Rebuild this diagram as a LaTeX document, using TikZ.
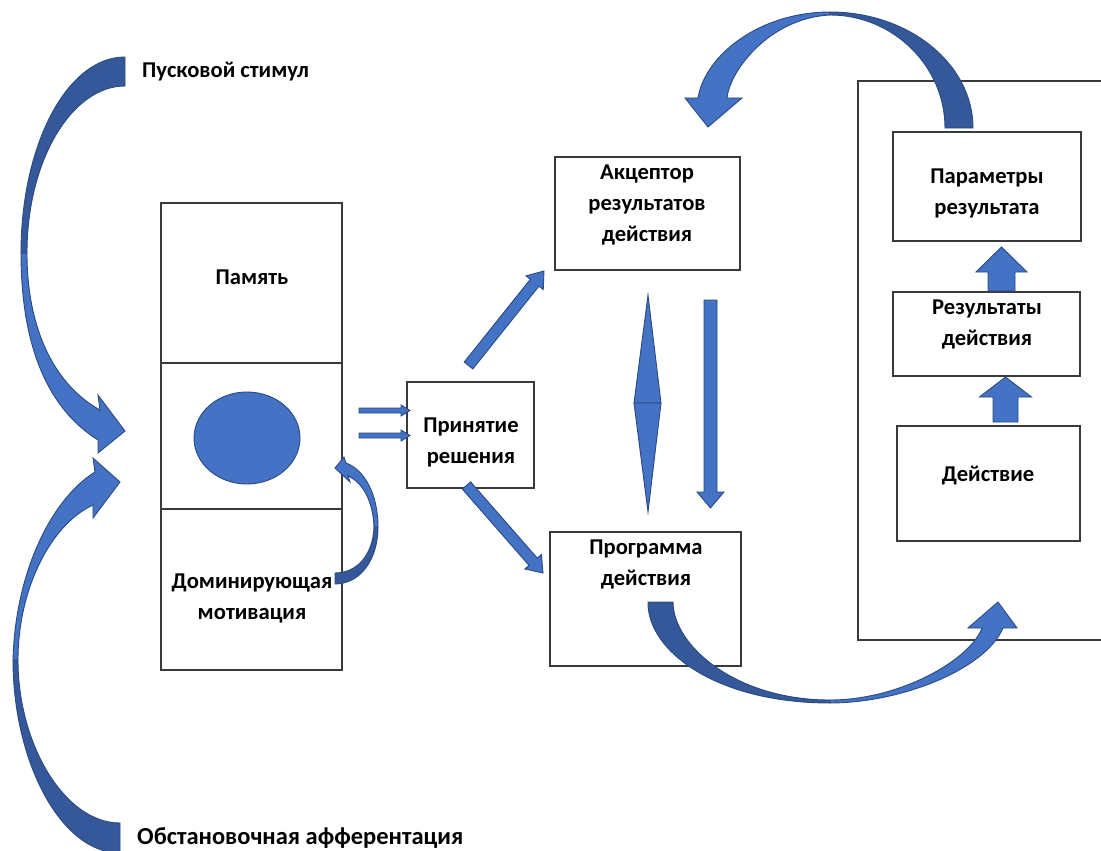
\documentclass[tikz,border=0pt]{standalone}
\usepackage{fontspec}
\setmainfont{Carlito}
\usetikzlibrary{calc,shapes.geometric}
\definecolor{afill}{HTML}{4472C4}
\definecolor{adark}{HTML}{34589A}
\definecolor{aline}{HTML}{2A4A80}
\definecolor{boxline}{HTML}{3A3A3A}
\newcommand{\blockarrow}[6]{%
  \coordinate (#1-s) at (#2);
  \coordinate (#1-t) at (#3);
  \coordinate (#1-h) at ($(#1-t)!#6!(#1-s)$);
  \filldraw[barrow] ($(#1-s)!#4!90:(#1-t)$) -- ($(#1-h)!#4!90:(#1-t)$) -- ($(#1-h)!#5!90:(#1-t)$) -- (#1-t)
    -- ($(#1-h)!#5!-90:(#1-t)$) -- ($(#1-h)!#4!-90:(#1-t)$) -- ($(#1-s)!#4!-90:(#1-t)$) -- cycle;
}
\begin{document}
\begin{tikzpicture}[x=1pt,y=-1pt,
  box/.style={draw=boxline, line width=1.1pt, inner sep=0pt},
  lbl/.style={font=\fontsize{22.6pt}{31pt}\selectfont\bfseries, align=center, inner sep=0pt},
  biglbl/.style={font=\fontsize{24.5pt}{31pt}\selectfont\bfseries, inner sep=0pt},
  barrow/.style={fill=afill, draw=aline, line width=0.9pt, line join=miter},
  cfront/.style={fill=afill, draw=aline, line width=0.9pt, line join=miter},
  cback/.style={fill=adark, draw=aline, line width=0.9pt, line join=miter}]
\useasboundingbox (0,0) rectangle (1101,851);

% left column
\node[box, minimum width=181pt, minimum height=160pt] (mem) at (251.5,283) {};
\node[box, minimum width=181pt, minimum height=146pt] (mid) at (251.5,436) {};
\node[box, minimum width=181pt, minimum height=161pt] (mot) at (251.5,589.5) {};
\node[lbl] (memt) at (252,277) {Память};
\node[lbl] (mott) at (252,598) {Доминирующая\\мотивация};
\node[draw=aline, fill=afill, line width=0.9pt, ellipse, minimum width=106pt, minimum height=92pt, inner sep=0pt] (circ) at (247,438) {};

% decision
\node[box, minimum width=127pt, minimum height=106pt] (dec) at (470.5,435) {};
\node[lbl] (dect) at (471,442.5) {Принятие\\решения};

% acceptor and program
\node[box, minimum width=185pt, minimum height=113pt] (acc) at (647.5,213.5) {};
\node[lbl] (acct) at (647,205) {Акцептор\\результатов\\действия};
\node[box, minimum width=191pt, minimum height=134pt] (prog) at (645.5,599) {};
\node[lbl] (progt) at (646,564) {Программа\\действия};

% right frame
\coordinate (fr1) at (1101,81);
\coordinate (fr2) at (858,81);
\coordinate (fr3) at (858,640);
\coordinate (fr4) at (1101,640);
\draw[boxline, line width=1.1pt] (fr1) -- (fr2) -- (fr3) -- (fr4);
\node[box, minimum width=188pt, minimum height=109pt] (par) at (987,186.5) {};
\node[lbl] (part) at (987,193.5) {Параметры\\результата};
\node[box, minimum width=187pt, minimum height=84pt] (res) at (986.5,334) {};
\node[lbl] (rest) at (987,324) {Результаты\\действия};
\node[box, minimum width=183pt, minimum height=115pt] (act) at (988.5,483.5) {};
\node[lbl] (actt) at (988,476) {Действие};

% side labels
\node[lbl, anchor=west] (ps) at (142,72) {Пусковой стимул};
\node[biglbl, anchor=west] (oa) at (137,838) {Обстановочная афферентация};

% straight block arrows
\blockarrow{sa1}{359,410.5}{410,410.5}{2.5pt}{5.5pt}{9pt}
\blockarrow{sa2}{359,435.5}{410,435.5}{2.5pt}{5.5pt}{9pt}
\blockarrow{du}{468.5,365.5}{544,271}{5.5pt}{11pt}{15pt}
\blockarrow{dd}{466.5,485.5}{543,573}{5.5pt}{11pt}{15pt}
\blockarrow{down}{710.5,300}{710.5,508}{6.5pt}{13.5pt}{16pt}
\blockarrow{up1}{1001.5,291}{1001.5,247}{13.5pt}{25.5pt}{25pt}
\blockarrow{up2}{1005.5,422}{1005.5,377}{12.5pt}{26pt}{20pt}

% double pointed diamond
\coordinate (dmt) at (648,295);
\coordinate (dmr) at (661,403);
\coordinate (dmb) at (648,512);
\coordinate (dml) at (634,403);
\filldraw[barrow] (dml) -- (dmt) -- (dmr) -- cycle;
\filldraw[barrow] (dml) -- (dmb) -- (dmr) -- cycle;

% curved arrow: Пусковой стимул
\filldraw[cback] (125,57) .. controls (67,57) and (21,145) .. (21,253) -- (27,253) .. controls (27,160) and (72,86) .. (125,86) -- cycle;
\filldraw[cfront] (21,253) .. controls (21,350) and (50,410) .. (98,440) -- (98,453) -- (125,431) -- (98,395) -- (100,410) .. controls (55,385) and (27,330) .. (27,253) -- cycle;

% curved arrow: Обстановочная афферентация
\filldraw[cback] (120,853) .. controls (60,853) and (13,760) .. (13,660) -- (18,660) .. controls (18,745) and (65,823) .. (120,823) -- cycle;
\filldraw[cfront] (13,660) .. controls (15,575) and (50,500) .. (95,472) -- (93,458) -- (120,482) -- (93,518) -- (93,505) .. controls (50,525) and (18,590) .. (18,660) -- cycle;

% curved arrow: top (parameters -> acceptor)
\filldraw[cback] (973,128) .. controls (973,64) and (909,12) .. (830,12) -- (830,15) .. controls (893,15) and (945,66) .. (945,128) -- cycle;
\filldraw[cfront] (830,12) .. controls (760,12) and (705,55) .. (698,98) -- (685,98) -- (708,127) -- (742,98) -- (727,98) .. controls (730,70) and (770,18) .. (830,15) -- cycle;

% curved arrow: bottom (program -> action frame)
\filldraw[cback] (648,602) .. controls (647,650) and (715,703) .. (830,703) -- (830,700) .. controls (735,700) and (673,645) .. (673,602) -- cycle;
\filldraw[cfront] (830,703) .. controls (900,703) and (985,670) .. (1003,628) -- (1017,628) -- (998,602) -- (968,628) -- (982,628) .. controls (970,660) and (900,700) .. (830,700) -- cycle;

% small curved arrow: motivation -> circle
\filldraw[cback] (378,527) .. controls (378,560) and (360,584) .. (335,584) -- (335,573) .. controls (357,573) and (373,555) .. (374,527) -- cycle;
\filldraw[cfront] (378,527) .. controls (378,495) and (365,470) .. (346,463) -- (344,457) -- (335,468) -- (350,482) -- (348,476) .. controls (362,482) and (373,500) .. (374,527) -- cycle;
\end{tikzpicture}
\end{document}
